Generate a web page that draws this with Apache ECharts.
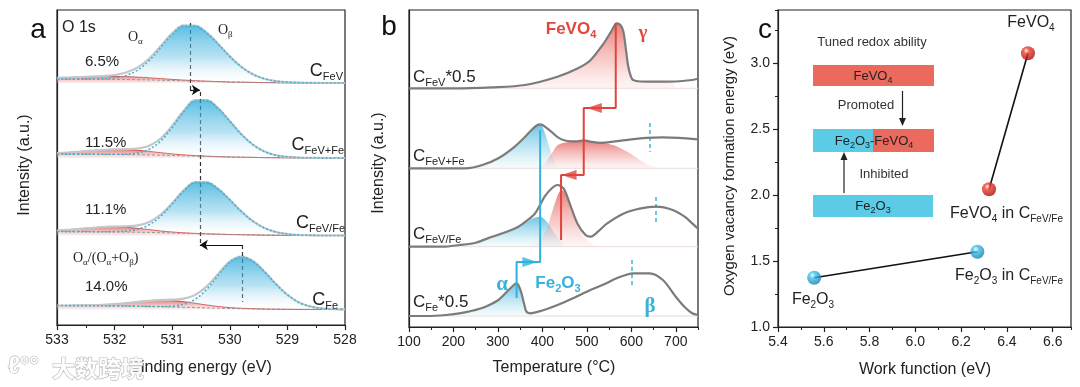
<!DOCTYPE html>
<html><head><meta charset="utf-8">
<script src="https://cdn.jsdelivr.net/npm/echarts/dist/echarts.min.js"></script>
<style>html,body{margin:0;padding:0;background:#fff}#c{width:1080px;height:387px}</style>
</head><body><div id="c"></div>
<script>
const FONT = '"Liberation Sans", Arial, Helvetica, sans-serif';
const SERIF = '"Liberation Serif", "Times New Roman", serif';

// ---------- Panel a : XPS O 1s (intensity in a.u.) ----------
const beA = [533.0,532.8,532.6,532.4,532.2,532.0,531.8,531.6,531.4,531.2,531.0,530.8,530.6,530.4,530.2,530.0,529.8,529.6,529.4,529.2,529.0,528.8,528.6,528.4,528.2,528.0];
const bgA = [4.0,3.9,3.9,3.8,3.7,3.6,3.5,3.3,3.1,2.8,2.5,2.2,1.9,1.6,1.3,1.0,0.8,0.6,0.4,0.3,0.2,0.1,0.1,0,0,0];
const offsetsA = [242, 167, 89.5, 15.5];
const betaFeV     = [0,0,0,0.1,0.4,1.4,4.1,9.7,19.3,32.6,46.1,54.8,55.1,48.5,37.6,25.6,15.4,8.1,3.8,1.5,0.6,0.2,0,0,0,0];
const alphaFeV    = [1.1,1.6,2.1,2.6,2.9,3.0,2.9,2.6,2.1,1.6,1.1,0.7,0.4,0.2,0.1,0,0,0,0,0,0,0,0,0,0,0];
const betaFeVFe   = [0,0,0,0,0,0.1,0.5,1.8,5.7,14.2,28.1,44.2,55.4,56.0,48.3,35.9,23.0,12.8,6.1,2.5,0.9,0.3,0.1,0,0,0];
const alphaFeVFe  = [0.9,1.6,2.5,3.5,4.4,4.9,4.9,4.4,3.5,2.5,1.6,0.9,0.5,0.2,0.1,0,0,0,0,0,0,0,0,0,0,0];
const betaFeVslFe = [0,0,0,0,0.1,0.3,1.0,3.0,7.7,16.5,29.0,42.4,51.2,51.5,45.2,34.7,23.3,13.7,7.1,3.2,1.3,0.4,0.1,0,0,0];
const alphaFeVslFe= [1.0,1.7,2.8,3.8,4.7,5.0,4.7,3.8,2.8,1.7,1.0,0.5,0.2,0.1,0,0,0,0,0,0,0,0,0,0,0,0];
const betaFe      = [0,0,0,0,0,0,0,0,0,0.2,0.9,3.0,8.4,18.6,32.8,46.2,51.7,47.7,37.5,25.2,14.4,7.0,2.9,1.0,0.3,0.1];
const alphaFe     = [0,0.1,0.2,0.4,0.9,1.7,2.9,4.3,5.6,6.4,6.4,5.6,4.3,2.9,1.7,0.9,0.4,0.2,0.1,0,0,0,0,0,0,0];
const betaA = [betaFeV, betaFeVFe, betaFeVslFe, betaFe];
const alphaA = [alphaFeV, alphaFeVFe, alphaFeVslFe, alphaFe];
const shiftDashes = [[530.69,302,530.69,235],[530.52,233,530.52,80],[529.78,80,529.78,23]];
const shiftArrows = [[530.69,235,530.52,235],[529.78,80,530.52,80]];

// ---------- Panel b : H2-TPR (temperature, intensity a.u.) ----------
const offsetsB = [238.7, 158.7, 80.3, 11];
const tprFeV = [[100,0],[200,0],[286,1],[361,3.3],[434,11.6],[480,20],[508,28],[538,45],[555,57],[567,65],[576,63],[582,57],[587,42],[593,22],[599,12],[604,8.3],[620,6.8],[656,6.6],[700,6.8],[737,8.3],[750,9.5]];
const tprFeVFe = [[100,0],[228,0],[265,3.3],[301,10],[338,21.7],[360,31],[375,38],[388,43],[396,44],[405,42],[419,37],[435,31],[449,28],[465,27],[479,27],[493,28],[510,26.5],[530,25.5],[560,26.7],[600,29],[634,30.5],[670,31],[707,30.5],[750,29]];
const tprFeVslFe = [[100,0],[175,0],[213,1.7],[250,4],[287,10],[320,15],[346,20],[365,26],[383,33],[395,42],[405,50],[420,58],[434,61.7],[448,58],[464,40],[479,23],[497,11.7],[508,10],[525,15],[545,23],[582,33],[619,38],[656,40],[693,36.7],[720,30],[737,23.3],[750,18]];
const tprFe = [[100,0],[139,0],[183,1],[213,2.7],[240,5],[272,9.3],[301,16],[324,26],[338,32],[343,32.7],[348,29],[353,22.7],[359,12],[364,4.3],[372,2.7],[400,5.5],[434,11],[470,18],[508,26],[540,32],[567,37.7],[604,42.7],[641,42.7],[671,36],[700,19.3],[720,9],[737,2.7],[750,1]];
const fillFeVGamma = [[250,0],[286,1],[361,3.3],[434,11.6],[480,20],[508,28],[538,45],[555,57],[567,65],[576,63],[582,57],[587,42],[593,22],[599,12],[604,8.3],[620,6.8],[656,6.6],[690,6.7],[700,0]];
const fillFeVFeBlue = [[228,0],[265,3.3],[301,10],[338,21.7],[360,31],[375,38],[388,43],[396,44],[405,36],[415,22],[425,9],[434,0]];
const fillFeVFeRed = [[390,0],[405,5],[420,14],[434,23],[455,26],[475,27],[493,28],[515,26],[540,25],[560,23],[580,19],[597,15],[620,8],[641,3],[660,0]];
const fillFeVslFeBlue = [[175,0],[213,1.7],[250,4],[287,10],[320,15],[346,20],[365,25],[383,29],[395,30],[410,25],[425,15],[440,6],[452,0]];
const fillFeVslFeRed = [[375,0],[395,6],[410,18],[422,35],[435,52],[443,56.7],[452,53],[465,38],[480,20],[495,9],[510,3],[525,0]];
const fillFeBlue = [[139,0],[183,1],[213,2.7],[240,5],[272,9.3],[301,16],[324,26],[338,32],[343,32.7],[348,29],[353,22.7],[359,12],[364,4.3],[372,0]];
const redPath = [[565,304],[565,219],[493,219],[493,152],[442,152],[442,87]];
const redHeads = [[517,219],[460,152]];
const bluePath = [[342,29],[342,65],[395,65],[395,197]];
const blueHeads = [[372,65]];
const dashMarksB = [[641,204,175],[656,130,105],[602,67,39]];

// ---------- Panel c : work function vs O-vacancy formation energy ----------
const wfFe2O3 = [5.558, 6.271];
const evFe2O3 = [1.373, 1.570];
const wfFeVO4 = [6.322, 6.492];
const evFeVO4 = [2.043, 3.073];

const G = echarts.graphic;
const blueGradA = new G.LinearGradient(0,0,0,1,[{offset:0,color:'#16a3d6'},{offset:0.55,color:'rgba(120,200,232,0.75)'},{offset:1,color:'rgba(255,255,255,0.1)'}]);
const redGradA = new G.LinearGradient(0,0,0,1,[{offset:0,color:'#d9433c'},{offset:1,color:'rgba(240,170,170,0.3)'}]);
const redGradB = new G.LinearGradient(0,0,0,1,[{offset:0,color:'#e0453e'},{offset:0.6,color:'rgba(238,140,135,0.6)'},{offset:1,color:'rgba(248,210,210,0.3)'}]);
const blueGradB = new G.LinearGradient(0,0,0,1,[{offset:0,color:'#27acda'},{offset:0.6,color:'rgba(130,205,232,0.6)'},{offset:1,color:'rgba(210,238,247,0.3)'}]);

const AY0 = 0;          // panel a frame axis
const AY = i => 1 + i;  // panel a per-spectrum axes
const BY0 = 5;          // panel b frame axis
const BY = i => 6 + i;  // panel b per-curve axes
const CY = 10;

const series = [];
// panel a
for (let i = 0; i < 4; i++) {
  const common = {type:'line', xAxisIndex:0, yAxisIndex:AY(i), symbol:'none', silent:true};
  const base = beA.map((x,k)=>[x, bgA[k]]);
  const alpha = beA.map((x,k)=>[x, bgA[k]+alphaA[i][k]]);
  const beta = beA.map((x,k)=>[x, bgA[k]+betaA[i][k]]);
  const env = beA.map((x,k)=>[x, bgA[k]+alphaA[i][k]+betaA[i][k]]);
  series.push(Object.assign({}, common, {data:alpha, smooth:0.35, lineStyle:{color:'#d24c46', width:1}, areaStyle:{color:redGradA}, z:3}));
  series.push(Object.assign({}, common, {data:base, lineStyle:{color:'#8a8a8a', width:1, type:[3,2]}, z:3}));
  series.push(Object.assign({}, common, {data:env, smooth:0.35, lineStyle:{color:'#c6c6c6', width:2.2}, z:4}));
  series.push(Object.assign({}, common, {data:beta, smooth:0.35, lineStyle:{color:'#45b3d6', width:1.6, type:[2,2]}, areaStyle:{color:blueGradA}, z:5}));
}
series.push({type:'line', xAxisIndex:0, yAxisIndex:AY0, data:[], silent:true,
  markLine:{silent:true, symbol:['none','none'], label:{show:false}, animation:false,
    lineStyle:{color:'#333', type:[4,3], width:1.2},
    data: shiftDashes.map(d=>[{coord:[d[0],d[1]]},{coord:[d[2],d[3]]}])}});
series.push({type:'line', xAxisIndex:0, yAxisIndex:AY0, data:[], silent:true,
  markLine:{silent:true, symbol:['none','arrow'], symbolSize:8, label:{show:false}, animation:false,
    lineStyle:{color:'#111', type:'solid', width:1.2},
    data: shiftArrows.map(d=>[{coord:[d[0],d[1]]},{coord:[d[2],d[3]]}])}});

// panel b
const curvesB = [tprFeV, tprFeVFe, tprFeVslFe, tprFe];
offsetsB.forEach((off,i)=>{
  series.push({type:'line', xAxisIndex:2, yAxisIndex:BY(i), symbol:'none', silent:true, data:[[100,0],[750,0]], lineStyle:{color:'#eadcdc', width:1}, z:1});
});
const fillsB = [[fillFeVGamma,0,redGradB],[fillFeVFeBlue,1,blueGradB],[fillFeVFeRed,1,redGradB],[fillFeVslFeBlue,2,blueGradB],[fillFeVslFeRed,2,redGradB],[fillFeBlue,3,blueGradB]];
fillsB.forEach(f=>{
  series.push({type:'line', xAxisIndex:2, yAxisIndex:BY(f[1]), symbol:'none', silent:true, smooth:0.3, data:f[0], lineStyle:{opacity:0,width:0}, areaStyle:{color:f[2]}, z:2});
});
curvesB.forEach((c,i)=>{
  series.push({type:'line', xAxisIndex:2, yAxisIndex:BY(i), symbol:'none', silent:true, smooth:0.3, data:c, lineStyle:{color:'#7b7b7b', width:2.2}, z:6});
});
series.push({type:'line', xAxisIndex:2, yAxisIndex:BY0, symbol:'none', silent:true, data:redPath, lineStyle:{color:'#e2433c', width:2}, z:7});
series.push({type:'line', xAxisIndex:2, yAxisIndex:BY0, symbol:'none', silent:true, data:bluePath, lineStyle:{color:'#2db3dd', width:2}, z:7});
series.push({type:'scatter', xAxisIndex:2, yAxisIndex:BY0, silent:true, data:redHeads, symbol:'triangle', symbolRotate:90, symbolSize:[10,15], itemStyle:{color:'#e2433c'}, z:8});
series.push({type:'scatter', xAxisIndex:2, yAxisIndex:BY0, silent:true, data:blueHeads, symbol:'triangle', symbolRotate:-90, symbolSize:[10,15], itemStyle:{color:'#2db3dd'}, z:8});
series.push({type:'line', xAxisIndex:2, yAxisIndex:BY0, data:[], silent:true,
  markLine:{silent:true, symbol:['none','none'], label:{show:false}, animation:false,
    lineStyle:{color:'#3bb4d8', type:[4,3], width:1.5},
    data: dashMarksB.map(d=>[{coord:[d[0],d[1]]},{coord:[d[0],d[2]]}])}});

// panel c
const ballBlue = new G.RadialGradient(0.38,0.32,0.7,[{offset:0,color:'#eafaff'},{offset:0.3,color:'#3cc3ea'},{offset:1,color:'#137fae'}]);
const ballRed = new G.RadialGradient(0.38,0.32,0.7,[{offset:0,color:'#ffe2dc'},{offset:0.3,color:'#ef3b2c'},{offset:1,color:'#a30f0a'}]);
series.push({type:'line', xAxisIndex:4, yAxisIndex:CY, symbol:'none', silent:true, data:wfFe2O3.map((x,k)=>[x,evFe2O3[k]]), lineStyle:{color:'#111', width:1.6}, z:3});
series.push({type:'line', xAxisIndex:4, yAxisIndex:CY, symbol:'none', silent:true, data:wfFeVO4.map((x,k)=>[x,evFeVO4[k]]), lineStyle:{color:'#111', width:1.6}, z:3});
series.push({type:'scatter', xAxisIndex:4, yAxisIndex:CY, silent:true, symbolSize:14, data:wfFe2O3.map((x,k)=>[x,evFe2O3[k]]), itemStyle:{color:ballBlue}, z:4});
series.push({type:'scatter', xAxisIndex:4, yAxisIndex:CY, silent:true, symbolSize:14, data:wfFeVO4.map((x,k)=>[x,evFeVO4[k]]), itemStyle:{color:ballRed}, z:4});

const axisCol = '#222';
const lbl = {color:'#222', fontSize:14, fontFamily:FONT};
function xMain(grid, min, max, interval, extra) {
  return Object.assign({type:'value', gridIndex:grid, min, max, interval, position:'bottom',
    axisLine:{show:true, onZero:false, lineStyle:{color:axisCol, width:1.2}},
    axisTick:{show:true, length:5, lineStyle:{color:axisCol, width:1.2}},
    axisLabel:Object.assign({margin:8, showMaxLabel:false}, lbl),
    splitLine:{show:false}}, extra||{});
}
function xMinor(grid, min, max, interval, extra) {
  return Object.assign({type:'value', gridIndex:grid, min, max, interval, position:'bottom',
    axisLine:{show:false, onZero:false}, axisTick:{show:true, length:3, lineStyle:{color:axisCol, width:1}},
    axisLabel:{show:false}, splitLine:{show:false}}, extra||{});
}
function frameY(grid, min, max) {
  return {type:'value', gridIndex:grid, min, max, axisLine:{show:true, onZero:false, lineStyle:{color:axisCol, width:1.2}}, axisTick:{show:false}, axisLabel:{show:false}, splitLine:{show:false}};
}
function hiddenY(grid, min, max) {
  return {type:'value', gridIndex:grid, min, max, show:false, splitLine:{show:false}};
}

// text helpers
function rt(x, y, text, rich, align, extra) {
  return Object.assign({type:'text', x, y, z:100, silent:true, style:{text, rich, fill:'#222', align:align||'left', textAlign:align||'left', verticalAlign:'middle', textVerticalAlign:'middle', fontSize:14, fontFamily:FONT}}, extra||{});
}
function t(x, y, text, size, color, align, family, weight, extra) {
  return Object.assign({type:'text', x, y, z:100, silent:true, style:{text, fill:color||'#222', align:align||'left', textAlign:align||'left', verticalAlign:'middle', textVerticalAlign:'middle', fontSize:size, fontFamily:family||FONT, fontWeight:weight||'normal'}}, extra||{});
}
function richSet(main, sub, family, weight, color) {
  return {
    m:{fontSize:main, fontFamily:family||FONT, fontWeight:weight||'normal', fill:color||'#222'},
    s:{fontSize:sub, fontFamily:family||FONT, fontWeight:weight||'normal', fill:color||'#222', padding:[Math.round(sub*1.1),0,0,0]}
  };
}
const RA = richSet(18, 11);
const RB = richSet(17, 11);
const RC = richSet(16, 10);
const RG = richSet(14, 9, SERIF);
const RRed = richSet(17, 11, FONT, 'bold', '#e0473f');
const RBlue = richSet(17, 11, FONT, 'bold', '#36b3da');
const RBox = richSet(13, 9);

const graphics = [
  t(38, 30, 'a', 28, '#111', 'center'),
  t(389, 27, 'b', 28, '#111', 'center'),
  t(765, 30, 'c', 28, '#111', 'center'),
  t(62, 28, 'O 1s', 16),
  rt(128, 37, '{m|O}{s|α}', RG),
  rt(218, 30, '{m|O}{s|β}', RG),
  t(85, 62, '6.5%', 15),
  rt(343, 71, '{m|C}{s|FeV}', RA, 'right'),
  t(85, 143, '11.5%', 15),
  rt(344, 145, '{m|C}{s|FeV+Fe}', RA, 'right'),
  t(85, 210, '11.1%', 15),
  rt(345, 223, '{m|C}{s|FeV/Fe}', RA, 'right'),
  rt(73, 258, '{m|O}{s|α}{m|/(O}{s|α}{m|+O}{s|β}{m|)}', RG),
  t(85, 287, '14.0%', 15),
  rt(338, 300, '{m|C}{s|Fe}', RA, 'right'),
  t(25, 165, 'Intensity (a.u.)', 16, '#222', 'center', FONT, 'normal', {rotation:Math.PI/2}),
  t(201, 368, 'Binding energy (eV)', 16, '#222', 'center'),
  rt(571, 29, '{m|FeVO}{s|4}', RRed, 'center'),
  t(643, 33, 'γ', 19, '#e0473f', 'center', SERIF, 'bold'),
  rt(413, 77, '{m|C}{s|FeV}{m|*0.5}', RB),
  rt(413, 156, '{m|C}{s|FeV+Fe}', RB),
  rt(413, 234, '{m|C}{s|FeV/Fe}', RB),
  rt(413, 302, '{m|C}{s|Fe}{m|*0.5}', RB),
  t(502, 285, 'α', 21, '#36b3da', 'center', SERIF, 'bold'),
  rt(558, 283, '{m|Fe}{s|2}{m|O}{s|3}', RBlue, 'center'),
  t(650, 307, 'β', 21, '#36b3da', 'center', SERIF, 'bold'),
  t(379, 163, 'Intensity (a.u.)', 16, '#222', 'center', FONT, 'normal', {rotation:Math.PI/2}),
  t(554, 368, 'Temperature (°C)', 16, '#222', 'center'),
  rt(1031, 23, '{m|FeVO}{s|4}', RC, 'center'),
  rt(1063, 214, '{m|FeVO}{s|4}{m| in C}{s|FeV/Fe}', RC, 'right'),
  rt(1063, 276, '{m|Fe}{s|2}{m|O}{s|3}{m| in C}{s|FeV/Fe}', RC, 'right'),
  rt(813, 300, '{m|Fe}{s|2}{m|O}{s|3}', RC, 'center'),
  t(730, 166, 'Oxygen vacancy formation energy (eV)', 15, '#222', 'center', FONT, 'normal', {rotation:Math.PI/2}),
  t(925, 370, 'Work function (eV)', 16, '#222', 'center'),
  t(872, 42, 'Tuned redox ability', 13, '#333', 'center'),
  {type:'rect', z:50, silent:true, shape:{x:813, y:65, width:121, height:21}, style:{fill:'#ec6a5d'}},
  rt(873, 76, '{m|FeVO}{s|4}', RBox, 'center'),
  t(866, 105, 'Promoted', 13, '#333', 'center'),
  {type:'line', z:50, silent:true, shape:{x1:902.5, y1:91, x2:902.5, y2:119}, style:{stroke:'#222', lineWidth:1.2}},
  {type:'polygon', z:50, silent:true, shape:{points:[[899,118],[906,118],[902.5,126]]}, style:{fill:'#222'}},
  {type:'rect', z:50, silent:true, shape:{x:813, y:129, width:60, height:23}, style:{fill:'#5ccbe6'}},
  {type:'rect', z:50, silent:true, shape:{x:873, y:129, width:61, height:23}, style:{fill:'#ec6a5d'}},
  rt(874, 141, '{m|Fe}{s|2}{m|O}{s|3}{m|-FeVO}{s|4}', RBox, 'center'),
  t(884, 174, 'Inhibited', 13, '#333', 'center'),
  {type:'line', z:50, silent:true, shape:{x1:844, y1:193, x2:844, y2:159}, style:{stroke:'#222', lineWidth:1.2}},
  {type:'polygon', z:50, silent:true, shape:{points:[[840.5,160],[847.5,160],[844,152]]}, style:{fill:'#222'}},
  {type:'rect', z:50, silent:true, shape:{x:813, y:195, width:120, height:22}, style:{fill:'#5ccbe6'}},
  rt(873, 206, '{m|Fe}{s|2}{m|O}{s|3}', RBox, 'center'),
  {type:'text', x:52, y:368, z:120, silent:true, style:{text:'大数跨境', fill:'rgba(255,255,255,0.92)', stroke:'#b9b9b9', lineWidth:1.2, fontSize:23, fontFamily:'"Noto Sans CJK SC", sans-serif', fontWeight:'bold', verticalAlign:'middle', textVerticalAlign:'middle'}},
  {type:'text', x:8, y:366, z:120, silent:true, style:{text:'ℓ°°', fill:'rgba(255,255,255,0.92)', stroke:'#b9b9b9', lineWidth:1.2, fontSize:24, fontFamily:FONT, fontWeight:'bold', verticalAlign:'middle', textVerticalAlign:'middle'}}
];

const yAxes = [frameY(0, 0, 315)];
offsetsA.forEach(off => yAxes.push(hiddenY(0, -off, 315 - off)));
yAxes.push(frameY(1, 0, 317));
offsetsB.forEach(off => yAxes.push(hiddenY(1, -off, 317 - off)));
yAxes.push({type:'value', gridIndex:2, min:1.0, max:3.4, interval:0.5, axisLine:{show:true, onZero:false, lineStyle:{color:axisCol, width:1.2}}, axisTick:{show:true, length:5, lineStyle:{color:axisCol, width:1.2}}, axisLabel:Object.assign({margin:8, showMaxLabel:false, formatter:v=>v.toFixed(1)}, lbl), splitLine:{show:false}});
yAxes.push({type:'value', gridIndex:2, min:1.0, max:3.4, interval:0.25, position:'left', axisLine:{show:false, onZero:false}, axisTick:{show:true, length:3, lineStyle:{color:axisCol, width:1}}, axisLabel:{show:false}, splitLine:{show:false}});

const option = {
  animation:false,
  backgroundColor:'#fff',
  grid:[
    {left:57, top:10, width:288, height:315, show:true, borderColor:'#222', borderWidth:1.2, backgroundColor:'transparent'},
    {left:409, top:10, width:289, height:317, show:true, borderColor:'#222', borderWidth:1.2, backgroundColor:'transparent'},
    {left:778, top:10, width:293, height:317, show:true, borderColor:'#222', borderWidth:1.2, backgroundColor:'transparent'}
  ],
  xAxis:[
    xMain(0, 528, 533, 1, {inverse:true, minorTick:{show:true, splitNumber:2, length:3, lineStyle:{color:axisCol}}, axisLabel:Object.assign({margin:8, showMaxLabel:true}, lbl)}),
    xMinor(0, 528, 533, 0.5, {inverse:true, axisTick:{show:false}}),
    xMain(1, 100, 750, 100),
    xMinor(1, 100, 750, 50),
    xMain(2, 5.4, 6.68, 0.2, {axisLabel:Object.assign({margin:8, showMaxLabel:false, formatter:v=>v.toFixed(1)}, lbl)}),
    xMinor(2, 5.4, 6.68, 0.1)
  ],
  yAxis: yAxes,
  series,
  graphic: graphics
};
const chart = echarts.init(document.getElementById('c'), null, {renderer:'canvas'});
chart.setOption(option);
</script>
</body></html>
